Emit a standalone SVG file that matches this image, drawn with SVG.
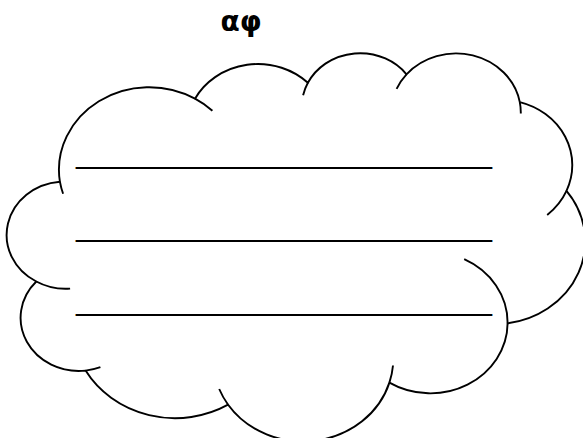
<svg xmlns="http://www.w3.org/2000/svg" width="583" height="438" viewBox="0 0 583 438">
<style>
.cloud{fill:#ffffff;stroke:#000000;stroke-width:1.9;stroke-linejoin:round}
.arc{fill:none;stroke:#000000;stroke-width:1.9}
.ul{font-family:"Liberation Sans",Arial,sans-serif;font-size:28.8px;fill:#000000}
.title{font-family:"DejaVu Sans","Noto Sans",sans-serif;font-weight:bold;font-size:28px;fill:#000000}
</style>
<rect width="583" height="438" fill="#ffffff"/>
<g id="title">
<text class="title" x="241" y="31" text-anchor="middle">αφ</text>
</g>
<g id="cloud">
<path class="cloud" d="M59.9,181.7 A90.19,82.54 0 0 1 195.0,98.7 A71.23,65.27 0 0 1 307.9,82.8 A58.30,53.40 0 0 1 406.5,74.3 A64.87,59.23 0 0 1 519.8,102.1 A71.23,65.32 0 0 1 566.5,190.9 A90.49,82.81 0 0 1 507.6,323.3 A77.26,70.66 0 0 1 389.4,382.6 A90.18,82.77 0 0 1 228.1,404.7 A103.11,94.69 0 0 1 85.6,370.6 A58.23,53.15 0 0 1 36.3,281.5 A58.03,53.40 0 0 1 59.9,181.7 Z"/>
<path class="arc" d="M70.1,288.6 A58.03,53.40 0 0 1 36.3,281.5 M100.4,367.2 A58.23,53.15 0 0 1 85.6,370.6 M228.1,404.7 A90.18,82.77 0 0 1 219.2,389.0 M393.0,365.5 A90.18,82.77 0 0 1 389.4,382.6 M464.2,259.2 A77.26,70.66 0 0 1 507.6,323.3 M566.5,190.9 A71.23,65.32 0 0 1 547.2,214.9 M519.8,102.1 A64.87,59.23 0 0 1 520.8,113.4 M396.6,88.8 A64.87,59.23 0 0 1 406.5,74.3 M303.1,95.3 A58.30,53.40 0 0 1 307.9,82.8 M195.0,98.7 A90.19,82.54 0 0 1 212.4,110.8 M63.1,193.8 A90.19,82.54 0 0 1 59.9,181.7"/>
</g>
<g id="lines">
<text class="ul" x="76" y="163" textLength="416" lengthAdjust="spacingAndGlyphs">__________________________</text>
<text class="ul" x="76" y="236" textLength="416" lengthAdjust="spacingAndGlyphs">__________________________</text>
<text class="ul" x="76" y="309.5" textLength="416" lengthAdjust="spacingAndGlyphs">__________________________</text>
</g>
</svg>
